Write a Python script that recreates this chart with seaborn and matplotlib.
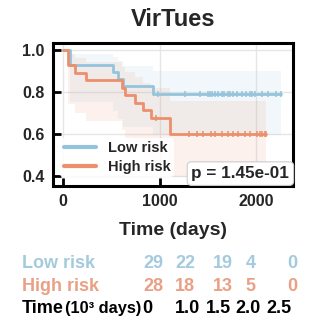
import numpy as np
import pandas as pd
import matplotlib
matplotlib.use("Agg")
import matplotlib.pyplot as plt
import seaborn as sns

# Follow-up (days) and event flags (1 = death, 0 = censored) per risk group
low_time = [70, 70, 517, 569, 620, 931, 980, 1258, 1414, 1496,
            1520, 1545, 1569, 1600, 1641, 1670, 1703, 1730, 1755, 1800,
            1848, 1890, 1930, 1960, 1990, 2055, 2120, 2200, 2258]
low_event = [1, 1, 1, 1, 1, 1, 0, 0, 0, 0,
             0, 0, 0, 0, 0, 0, 0, 0, 0, 0,
             0, 0, 0, 0, 0, 0, 0, 0, 0]
high_time = [52, 52, 121, 235, 604, 638, 742, 827, 914, 960, 1103, 1103,
             1300, 1383, 1445, 1530, 1569, 1641, 1703, 1755, 1806, 1880,
             1930, 2010, 2034, 2060, 2086, 2103]
high_event = [1, 1, 1, 1, 1, 1, 1, 1, 1, 0, 1, 1,
              0, 0, 0, 0, 0, 0, 0, 0, 0, 0,
              0, 0, 0, 0, 0, 0]

groups = ["Low risk", "High risk"]
p_value = 1.45e-01

# Number-at-risk table
risk_time_labels = ["0", "1.0", "1.5", "2.0", "2.5"]
low_at_risk = [29, 22, 19, 4, 0]
high_at_risk = [28, 18, 13, 5, 0]

line_colors = {"Low risk": "#94C4DC", "High risk": "#EC8F6C"}
text_colors = {"Low risk": "#A3CADD", "High risk": "#E9A084"}


def kaplan_meier(times, events, z=1.96):
    t = np.asarray(times, float)
    e = np.asarray(events, int)
    uniq = np.unique(t)
    steps_t, steps_s, lo, hi = [0.0], [1.0], [1.0], [1.0]
    s, var = 1.0, 0.0
    for u in uniq:
        n = np.sum(t >= u)
        d = np.sum((t == u) & (e == 1))
        if d > 0:
            s *= (1 - d / n)
            var += d / (n * (n - d))
        steps_t.append(u)
        steps_s.append(s)
        if s < 1:
            se = np.sqrt(var / np.log(s) ** 2)
            lo.append(s ** np.exp(z * se))
            hi.append(s ** np.exp(-z * se))
        else:
            lo.append(1.0)
            hi.append(1.0)
    cens_t = t[e == 0]
    cens_s = [steps_s[np.searchsorted(steps_t, c, side="right") - 1] for c in cens_t]
    return (pd.DataFrame({"time": steps_t, "surv": steps_s, "lo": lo, "hi": hi}),
            pd.DataFrame({"time": cens_t, "surv": cens_s}))


sns.set_theme(style="whitegrid")
plt.rcParams["font.family"] = ["Liberation Sans", "DejaVu Sans"]
plt.rcParams["font.weight"] = "bold"

fig = plt.figure(figsize=(3.23, 3.24), dpi=100)
ax = fig.add_axes([0.164, 0.426, 0.743, 0.441])

data = {"Low risk": (low_time, low_event), "High risk": (high_time, high_event)}
handles = []
for g in groups:
    curve, cens = kaplan_meier(*data[g])
    c = line_colors[g]
    ax.fill_between(curve["time"], curve["lo"], curve["hi"], step="post",
                    color=c, alpha=0.12, linewidth=0)
    sns.lineplot(data=curve, x="time", y="surv", ax=ax, color=c,
                 drawstyle="steps-post", linewidth=2.0, estimator=None,
                 label=g, legend=False)
    sns.scatterplot(data=cens, x="time", y="surv", ax=ax, color=c,
                    marker="|", s=20, linewidth=1.1, legend=False, zorder=3)
    handles.append(plt.Line2D([], [], color=c, linewidth=3.0, label=g))

ax.set_xlim(-107, 2380)
ax.set_ylim(0.355, 1.033)
ax.set_xticks([0, 1000, 2000])
ax.set_yticks([0.4, 0.6, 0.8, 1.0])
ax.set_yticklabels(["0.4", "0.6", "0.8", "1.0"])
ax.grid(True, color="#E6E6E6", linewidth=1.0)
for sp in ax.spines.values():
    sp.set_color("black")
    sp.set_linewidth(2.2)
ax.tick_params(axis="both", direction="in", length=6, width=2, color="black",
               labelsize=11.5, pad=6, left=True, bottom=True)
for lab in ax.get_xticklabels() + ax.get_yticklabels():
    lab.set_fontweight("bold")

ax.set_xlabel("Time (days)", fontsize=14, fontweight="bold", labelpad=9)
ax.set_ylabel("")
ax.set_title("VirTues", fontsize=17, fontweight="bold", pad=12)

leg = ax.legend(handles=handles, loc="lower left", fontsize=10.5,
                frameon=True, facecolor="white", edgecolor="none",
                framealpha=0.85, handlelength=2.2, borderpad=0.25,
                labelspacing=0.3, handletextpad=0.8,
                bbox_to_anchor=(0.0, 0.01))
for t in leg.get_texts():
    t.set_fontweight("bold")

ax.text(0.985, 0.055, f"p = {p_value:.2e}", transform=ax.transAxes,
        ha="right", va="baseline", fontsize=12.3, fontweight="bold",
        bbox=dict(boxstyle="round,pad=0.25", fc="white", ec="#CCCCCC", lw=0.8),
        zorder=5)

# Number-at-risk table below the axes (pixel positions on a 323x324 canvas)
W, H = 323.0, 324.0
row_base = {"Low risk": 268, "High risk": 291}
col_low_high = [153, 185, 222.5, 250.5, 292]
col_time = [147.5, 187.5, 218.5, 248.5, 278.5]
for g, counts in zip(groups, [low_at_risk, high_at_risk]):
    y = 1 - row_base[g] / H
    fig.text(22 / W, y, g, color=text_colors[g], fontsize=13,
             fontweight="bold", ha="left", va="baseline")
    for x, n in zip(col_low_high, counts):
        fig.text(x / W, y, str(n), color=text_colors[g], fontsize=13,
                 fontweight="bold", ha="center", va="baseline")

y3 = 1 - 313 / H
fig.text(22 / W, y3, "Time", fontsize=13, fontweight="bold",
         ha="left", va="baseline", color="black")
fig.text(65 / W, y3, "(10³ days)", fontsize=11.8, fontweight="bold",
         ha="left", va="baseline", color="black")
for x, lab in zip(col_time, risk_time_labels):
    fig.text(x / W, y3, lab, fontsize=13, fontweight="bold",
             ha="center", va="baseline", color="black")

fig.savefig("out.png", dpi=100)
